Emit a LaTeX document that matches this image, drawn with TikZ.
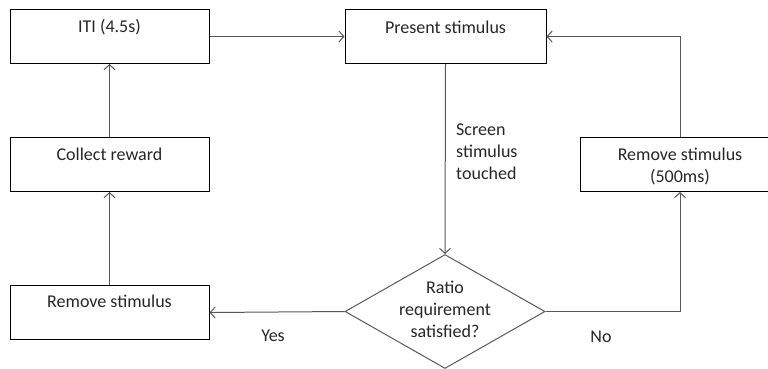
\documentclass[tikz,border=0pt]{standalone}
\usepackage{fontspec}
\setmainfont{Carlito}
\usetikzlibrary{shapes.geometric,arrows.meta}
\definecolor{txt}{HTML}{262626}
\definecolor{ln}{HTML}{595959}
\begin{document}
\begin{tikzpicture}[x=1pt,y=-1pt,
  box/.style={draw=black, line width=1pt, rectangle, minimum width=199pt, minimum height=54pt, inner sep=0pt},
  dec/.style={draw=ln, line width=1pt, diamond, minimum width=200pt, minimum height=114pt, inner sep=0pt},
  lbl/.style={text=txt, font=\fontsize{18}{22}\selectfont, align=center, inner sep=0pt},
  conn/.style={draw=ln, line width=1pt, -{Straight Barb[length=5pt,width=11pt]}}]
\useasboundingbox (0,0) rectangle (768,368);
\node[box] (iti) at (109.5,36.5) {};
\node[box] (collect) at (109.5,164.5) {};
\node[box] (rem) at (109.5,312.5) {};
\node[box, minimum width=201pt] (pres) at (445.5,36.5) {};
\node[box, minimum width=200pt] (rem5) at (680,164.5) {};
\node[dec] (dia) at (445,311.5) {};
\node[lbl] (titi) at (109.5,27) {ITI (4.5s)};
\node[lbl] (tcollect) at (109.5,154) {Collect reward};
\node[lbl] (trem) at (109.5,301) {Remove stimulus};
\node[lbl] (tpres) at (445.5,27) {Present stimulus};
\node[lbl] (trem5) at (680,166) {Remove stimulus\\(500ms)};
\node[lbl] (tdia) at (445,309) {Ratio\\requirement\\satisfied?};
\node[lbl, align=left, anchor=west] (tscreen) at (456,152) {Screen\\stimulus\\touched};
\node[lbl] (tyes) at (273,336) {Yes};
\node[lbl] (tno) at (601,337) {No};
\draw[conn] (iti.east) -- (pres.west);
\draw[conn] (collect.north) -- (iti.south);
\draw[conn] (rem.north) -- (collect.south);
\draw[conn] (pres.south) -- (dia.north);
\draw[conn] (dia.west) -- (rem.east);
\draw[conn] (dia.east) -| (rem5.south);
\draw[conn] (rem5.north) |- (pres.east);
\end{tikzpicture}
\end{document}
